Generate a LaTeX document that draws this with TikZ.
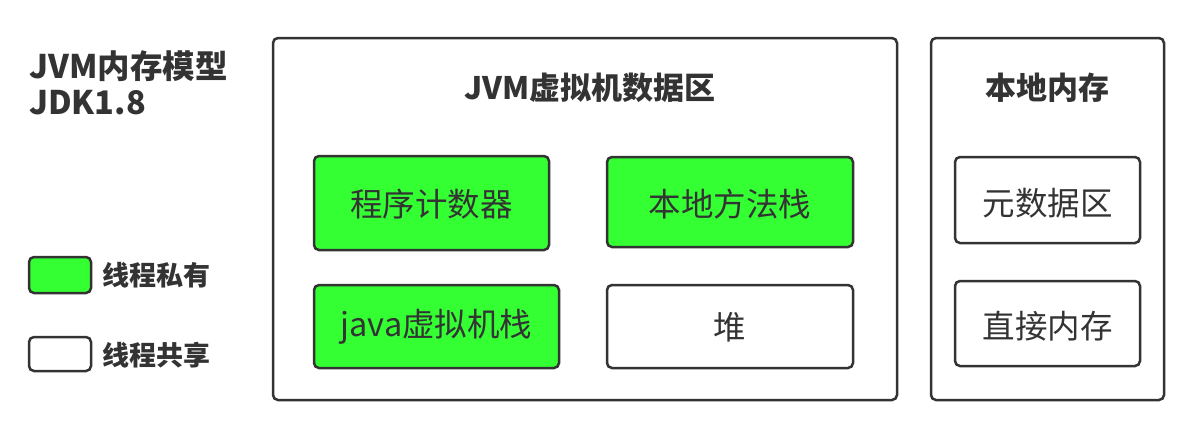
\documentclass[tikz,border=0pt]{standalone}
\usepackage{fontspec}
\setmainfont{Noto Sans CJK SC}
\begin{document}
\begin{tikzpicture}[x=1pt,y=-1pt,
  line width=2.5pt,
  ink/.style={draw=inkc, rounded corners=5pt},
  greenbox/.style={ink, fill=greenc},
  whitebox/.style={ink, fill=white},
  lbl/.style={text=inkc, font=\fontsize{32.5}{36}\selectfont},
  ttl/.style={text=inkc, font=\fontsize{31}{36}\selectfont\bfseries},
  leg/.style={text=inkc, font=\fontsize{27}{30}\selectfont\bfseries, anchor=west},
]
\definecolor{inkc}{HTML}{333333}
\definecolor{greenc}{HTML}{33FF33}
\useasboundingbox (0,0) rectangle (1187,424);
\fill[white] (0,0) rectangle (1187,424);
% titles
\node[text=inkc, font=\fontsize{32.5}{36}\selectfont\bfseries, anchor=west, align=left, inner sep=0pt] (title) at (28,83) {JVM内存模型\\JDK1.8};
% legend
\draw[greenbox] (29,257) rectangle (91,293);
\draw[whitebox] (29,337) rectangle (91,371);
\node[leg] (leggt) at (98,275) {线程私有};
\node[leg] (legwt) at (98,355) {线程共享};
% JVM area
\draw[ink] (273,38) rectangle (897,400);
\node[ttl] (jvmt) at (590,88) {JVM虚拟机数据区};
\draw[greenbox] (314,156) rectangle (549,250);
\node[lbl] (pc) at (431.5,204) {程序计数器};
\draw[greenbox] (607,157) rectangle (853,247);
\node[lbl] (nms) at (730,204) {本地方法栈};
\draw[greenbox] (314,285) rectangle (559,368);
\node[lbl] (jvms) at (436.5,327) {java虚拟机栈};
\draw[whitebox] (607,285) rectangle (853,368);
\node[lbl] (heap) at (730,327) {堆};
% local memory
\draw[ink] (931,38) rectangle (1164,400);
\node[ttl] (lmt) at (1047,88) {本地内存};
\draw[whitebox] (955,157) rectangle (1140,243);
\node[lbl] (meta) at (1047.5,203) {元数据区};
\draw[whitebox] (955,281) rectangle (1140,366);
\node[lbl] (dm) at (1047.5,326) {直接内存};
\end{tikzpicture}
\end{document}
